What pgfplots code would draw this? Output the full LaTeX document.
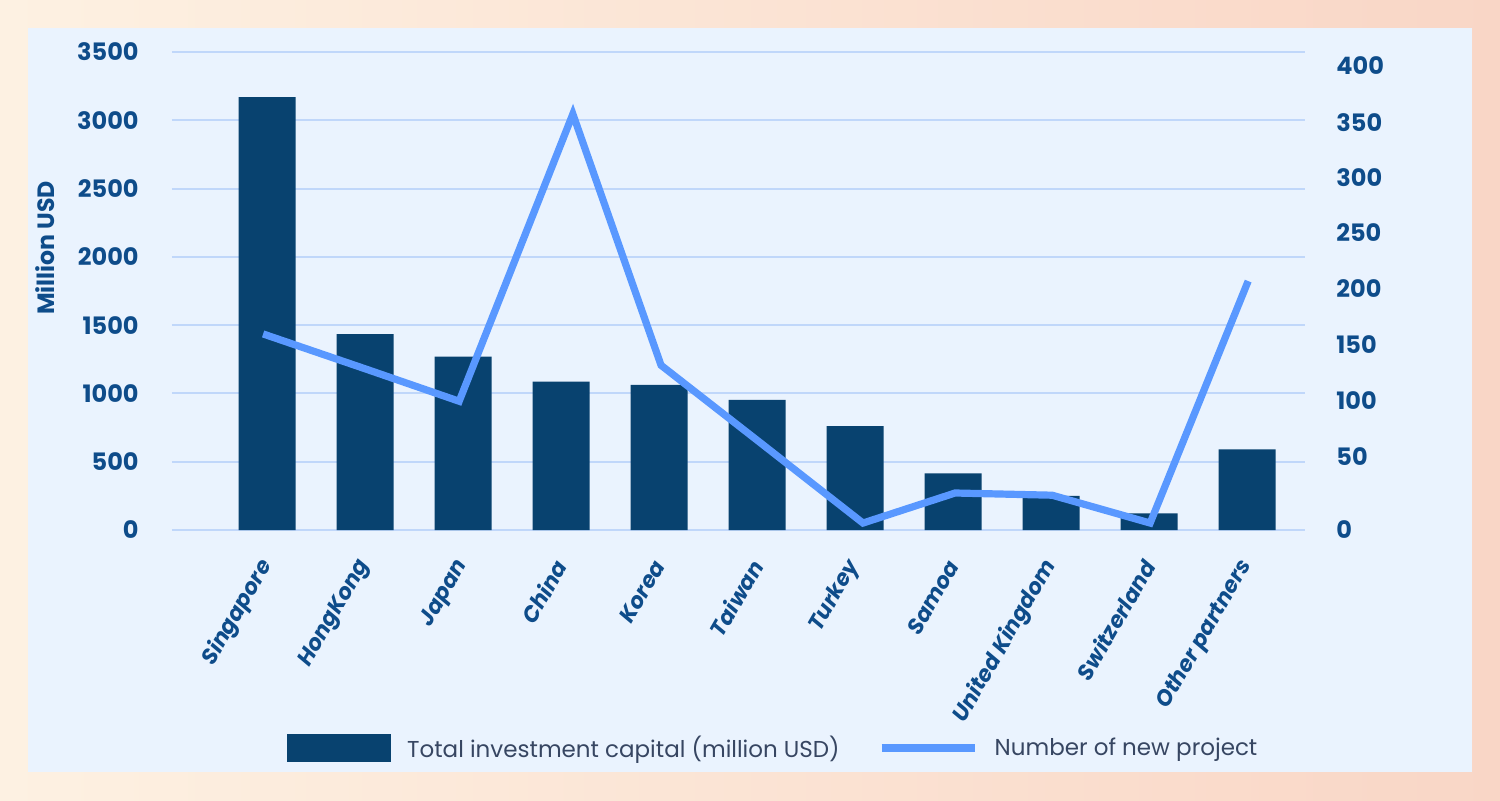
\documentclass[border=0pt]{standalone}
\usepackage{fontspec}
\setmainfont{Poppins}
\usepackage{pgfplots}
\pgfplotsset{compat=1.18}
\definecolor{barc}{RGB}{8,66,111}
\definecolor{linec}{RGB}{89,152,255}
\definecolor{gridc}{RGB}{192,215,250}
\definecolor{tickc}{RGB}{14,76,138}
\definecolor{panel}{RGB}{234,243,254}
\definecolor{legc}{RGB}{55,70,98}
\definecolor{bgl}{RGB}{253,241,226}
\definecolor{bgr}{RGB}{249,214,198}
\begin{document}
\begin{tikzpicture}
\fill[left color=bgl, right color=bgr] (-86pt,-135pt) rectangle (664pt,265pt);
\fill[panel] (-72pt,-121pt) rectangle (650pt,251pt);
\pgfplotsset{
  common/.style={
    at={(0pt,0pt)}, anchor=south west, scale only axis,
    width=566.5pt, height=239pt,
    xmin=-0.97, xmax=10.59,
    axis line style={draw=none}, major tick length=0pt,
    /pgf/number format/assume math mode=true,
    /pgf/number format/1000 sep={},
  }
}
\begin{axis}[common,
  ymin=0, ymax=3500,
  ytick={0,500,...,3500},
  ymajorgrids, grid style={gridc, line width=1pt},
  xtick={0,...,10},
  xticklabels={Singapore,HongKong,Japan,China,Korea,Taiwan,Turkey,Samoa,United Kingdom,Switzerland,Other partners},
  yticklabel style={font=\fontsize{12}{14}\selectfont\bfseries, text=tickc, anchor=east, inner sep=0pt, xshift=-16.5pt},
  xticklabel style={font=\fontsize{11}{13}\selectfont\bfseries\itshape, text=tickc, inner sep=0pt, xshift=0pt, yshift=-16pt, rotate=60, anchor=east},
  ylabel={Million USD},
  ylabel style={at={(axis description cs:-0.1121,0.59)}, anchor=center, font=\fontsize{11.8}{13}\selectfont\bfseries, text=tickc},
]
\addplot[ybar, bar width=28.5pt, fill=barc, draw=none] coordinates {
(0,3170) (1,1435) (2,1269) (3,1086) (4,1062) (5,952) (6,761) (7,415) (8,250) (9,122) (10,591)};
\end{axis}
\begin{axis}[common,
  ymin=0, ymax=412.07,
  axis y line*=right, hide x axis,
  ytick={0,63.2,112,159.5,207.8,256.3,303.7,351,400},
  yticklabels={0,50,100,150,200,250,300,350,400},
  yticklabel style={font=\fontsize{12}{14}\selectfont\bfseries, text=tickc, anchor=west, inner sep=0pt, xshift=15.5pt},
  legend style={at={(axis description cs:0.1015,-0.456)}, anchor=west, draw=none, fill=none,
    font=\fontsize{11.5}{13}\selectfont, text=legc, inner sep=0pt, nodes={inner sep=0pt},
    /tikz/every even column/.append style={column sep=19pt},
    /tikz/every odd column/.append style={column sep=8pt}},
  legend columns=2, legend cell align=left,
]
\addlegendimage{legend image code/.code={\fill[barc] (0pt,-6.75pt) rectangle (51.5pt,6.75pt);}}
\addlegendentry{Total investment capital (million USD)}
\addplot[linec, line width=3.6pt, line join=miter, legend image code/.code={\draw[linec, line width=4pt] (0pt,0pt) -- (46.5pt,0pt);}] coordinates {
(-0.04,169) (1,139) (1.96,111) (3.12,358.6) (4.02,142) (5,77.4) (6.08,6) (7.02,31.9) (8.01,30) (9.01,6) (10.01,214.6)};
\addlegendentry{Number of new project}
\end{axis}
\pgfresetboundingbox
\path (-86pt,-135pt) rectangle (664pt,265pt);
\end{tikzpicture}
\end{document}
